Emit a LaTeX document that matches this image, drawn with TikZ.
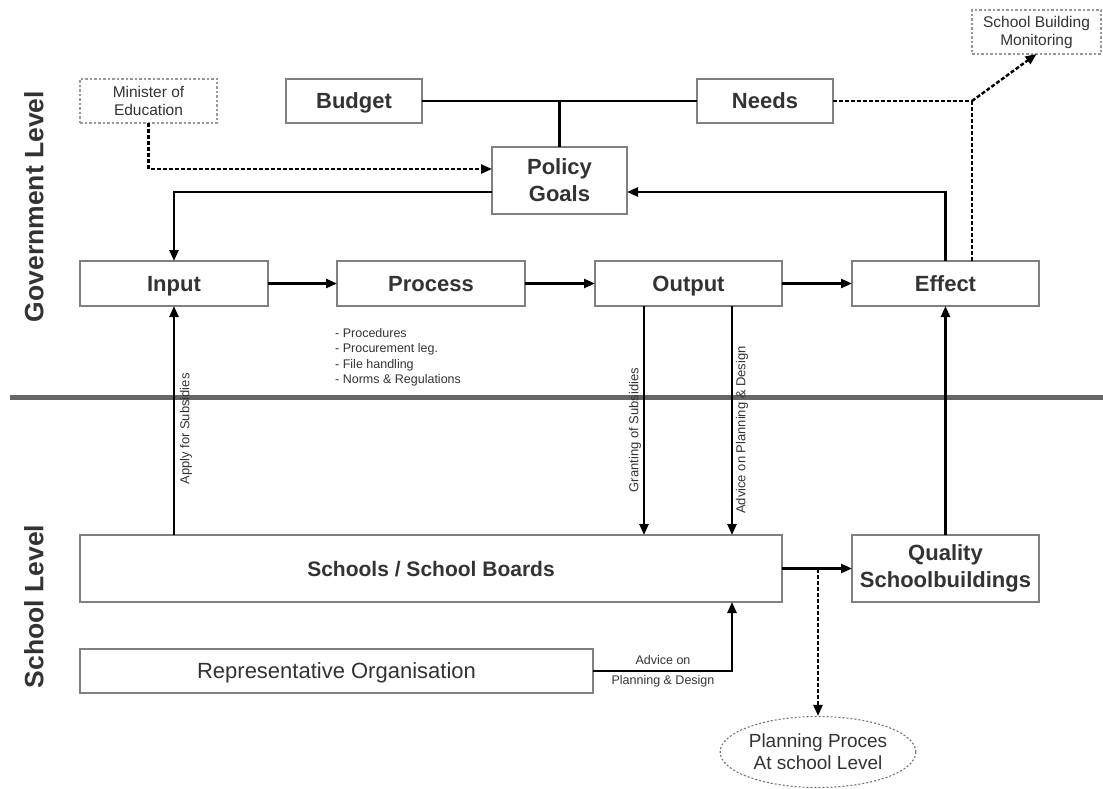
\documentclass[tikz,border=0pt]{standalone}
\usepackage{fontspec}
\setmainfont{Liberation Sans}
\usepackage{tikz}
\usetikzlibrary{arrows.meta}
\usetikzlibrary{shapes.geometric}
\usetikzlibrary{positioning}
\definecolor{txt}{HTML}{333333}
\definecolor{rim}{HTML}{808080}
\definecolor{divider}{HTML}{666666}

\begin{document}
\begin{tikzpicture}[x=1pt,y=-1pt,
  every node/.style={text=txt,inner sep=0pt,align=center},
  mainbox/.style={draw=rim,line width=1.4pt,outer sep=0pt,fill=white,font=\bfseries\fontsize{22}{27}\selectfont},
  single/.style={text height=15.8pt,text depth=0.6pt},
  dotbox/.style={draw=rim!80,line width=1.1pt,outer sep=0pt,dash pattern=on 2.5pt off 2pt,font=\fontsize{15.5}{18}\selectfont},
  flow/.style={line width=2.4pt,-{Triangle[length=11pt,width=9pt]}},
  joint/.style={line width=2.4pt},
  dashline/.style={line width=2.4pt,dash pattern=on 4pt off 2pt},
  dashflow/.style={dashline,-{Triangle[length=11pt,width=9pt]}},
  smalltext/.style={font=\fontsize{12.5}{15.5}\selectfont},
  vlabel/.style={rotate=90,font=\fontsize{13}{15}\selectfont},
  sidetitle/.style={rotate=90,font=\bfseries\fontsize{26.5}{30}\selectfont}]
  \useasboundingbox (0,0) rectangle (1103,789);

  \draw[divider,line width=5pt] (10,397) -- (1103,397);

  \node (gov) at (34,206.5)[sidetitle]{Government Level};
  \node (sch) at (34,606.5)[sidetitle]{School Level};

  \node (min) at (148.5,101)[dotbox,minimum width=137pt,minimum height=44pt]{Minister of\\Education};
  \node (budget) at (354,101)[mainbox,single,minimum width=136pt,minimum height=44pt]{Budget};
  \node (needs) at (765,101)[mainbox,single,minimum width=136pt,minimum height=44pt]{Needs};
  \node (policy) at (559.5,180.5)[mainbox,minimum width=135pt,minimum height=67pt]{Policy\\Goals};
  \node (monitor) at (1036.5,32)[dotbox,minimum width=129pt,minimum height=44pt]{School Building\\Monitoring};

  \node (input) at (174,283.5)[mainbox,single,minimum width=188pt,minimum height=45pt]{Input};
  \node[right=69pt of input,mainbox,single,minimum width=188pt,minimum height=45pt] (process){Process};
  \node[right=70pt of process,mainbox,single,minimum width=187pt,minimum height=45pt] (output){Output};
  \node[right=70pt of output,mainbox,single,minimum width=187pt,minimum height=45pt] (effect){Effect};
  \node (steps) at (335,328)[anchor=north west,align=left,smalltext]{- Procedures\\- Procurement leg.\\- File handling\\- Norms \& Regulations};

  \node (schools) at (431,568.5)[mainbox,single,minimum width=702pt,minimum height=67pt,font=\bfseries\fontsize{21}{27}\selectfont]{Schools / School Boards};
  \node[right=70pt of schools,mainbox,minimum width=187pt,minimum height=67pt] (quality){Quality\\Schoolbuildings};
  \node (rep) at (336.5,671)[mainbox,single,minimum width=513pt,minimum height=44pt,font=\fontsize{22}{27}\selectfont]{Representative Organisation};
  \node (plan) at (818,752)[ellipse,draw=rim!90!black,line width=1.1pt,dash pattern=on 2pt off 2pt,minimum width=184pt,minimum height=71pt,font=\fontsize{19}{22}\selectfont]{Planning Proces\\At school Level};

  \draw[joint] (budget) -- (needs);
  \draw[joint] (policy) -- (policy |- budget);
  \draw[dashflow] (min) |- ([yshift=11.5pt]policy.west);
  \draw[flow] ([yshift=-11.5pt]policy.west) -| (input);
  \draw[flow] (effect) |- ([yshift=-11.5pt]policy.east);
  \draw[dashline] (needs) -- (needs -| monitor.west) coordinate (fork);
  \draw[dashflow] (fork) -- (monitor.south);
  \draw[dashline] (fork) -- (fork |- effect.north);

  \draw[flow] (input) -- (process);
  \draw[flow] (process) -- (output);
  \draw[flow] (output) -- (effect);

  \coordinate (g1) at ([xshift=-44.5pt]output.south);
  \coordinate (g2) at ([xshift=43.5pt]output.south);
  \draw[flow] (g1) -- (g1 |- schools.north);
  \draw[flow] (g2) -- (g2 |- schools.north);
  \draw[flow] (input |- schools.north) -- (input);
  \draw[flow] (quality) -- (effect);
  \draw[flow] (schools) -- (quality);
  \draw[dashflow] (schools.east -| plan.north) -- (plan);
  \draw[flow] (rep) -| (g2 |- schools.south);

  \node (apply) at (186,429)[vlabel]{Apply for Subsidies};
  \node (grant) at (635,430)[vlabel]{Granting of Subsidies};
  \node (advice) at (742,430)[vlabel]{Advice on Planning \& Design};
  \node (repadvice) at (663,671)[font=\fontsize{12.5}{20}\selectfont]{Advice on\\Planning \& Design};
\end{tikzpicture}
\end{document}
